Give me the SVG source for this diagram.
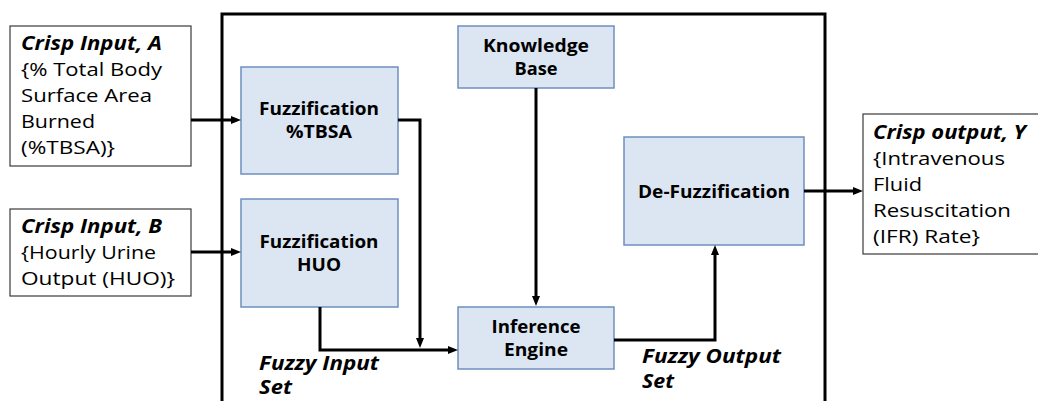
<svg xmlns="http://www.w3.org/2000/svg" width="1038" height="401" viewBox="0 0 1038 401">
<style>
.io{fill:#fff;stroke:#3a3a3a;stroke-width:1.2}
.blk{fill:#dce6f2;stroke:#6d8fbf;stroke-width:1.5}
.t{font-family:"Open Sans","Liberation Sans",sans-serif;font-size:19px;fill:#000}
.bi{font-weight:bold;font-style:italic}
.b{font-family:"Open Sans","Liberation Sans",sans-serif;font-size:17px;font-weight:bold;fill:#000;text-anchor:middle}
.c{fill:none;stroke:#000;stroke-width:3}
</style>
<defs>
<marker id="ah" markerUnits="userSpaceOnUse" markerWidth="10" markerHeight="8" refX="2" refY="4" orient="auto">
<path d="M0,0 L10,4 L0,8 z" fill="#000"/>
</marker>
</defs>
<rect x="222" y="14" width="603" height="400" fill="none" stroke="#000" stroke-width="3"/>
<g id="inputA">
<rect class="io" x="10" y="26" width="181" height="140"/>
<text class="t bi" x="21" y="50" textLength="141" lengthAdjust="spacingAndGlyphs">Crisp Input, A</text>
<text class="t" x="21" y="76" textLength="141" lengthAdjust="spacingAndGlyphs">{% Total Body</text>
<text class="t" x="21" y="102" textLength="131" lengthAdjust="spacingAndGlyphs">Surface Area</text>
<text class="t" x="21" y="128" textLength="74" lengthAdjust="spacingAndGlyphs">Burned</text>
<text class="t" x="21" y="154" textLength="94" lengthAdjust="spacingAndGlyphs">(%TBSA)}</text>
</g>
<g id="inputB">
<rect class="io" x="10" y="209" width="181" height="87"/>
<text class="t bi" x="21" y="233" textLength="141" lengthAdjust="spacingAndGlyphs">Crisp Input, B</text>
<text class="t" x="21" y="259" textLength="135" lengthAdjust="spacingAndGlyphs">{Hourly Urine</text>
<text class="t" x="21" y="285" textLength="154" lengthAdjust="spacingAndGlyphs">Output (HUO)}</text>
</g>
<g id="fuzzTBSA">
<rect class="blk" x="241" y="67" width="157" height="107"/>
<text class="b" x="319" y="115" textLength="120" lengthAdjust="spacingAndGlyphs">Fuzzification</text>
<text class="b" x="319" y="138" textLength="66" lengthAdjust="spacingAndGlyphs">%TBSA</text>
</g>
<g id="fuzzHUO">
<rect class="blk" x="241" y="199" width="157" height="108"/>
<text class="b" x="319" y="248" textLength="119" lengthAdjust="spacingAndGlyphs">Fuzzification</text>
<text class="b" x="319" y="271" textLength="44" lengthAdjust="spacingAndGlyphs">HUO</text>
</g>
<g id="kb">
<rect class="blk" x="458" y="26" width="156" height="62"/>
<text class="b" x="536" y="52" textLength="106" lengthAdjust="spacingAndGlyphs">Knowledge</text>
<text class="b" x="536" y="75" textLength="43" lengthAdjust="spacingAndGlyphs">Base</text>
</g>
<g id="ie">
<rect class="blk" x="458" y="307" width="156" height="62"/>
<text class="b" x="536" y="333" textLength="89" lengthAdjust="spacingAndGlyphs">Inference</text>
<text class="b" x="536" y="356" textLength="64" lengthAdjust="spacingAndGlyphs">Engine</text>
</g>
<g id="defuzz">
<rect class="blk" x="624" y="137" width="180" height="108"/>
<text class="b" x="714" y="198" textLength="152" lengthAdjust="spacingAndGlyphs">De-Fuzzification</text>
</g>
<g id="output">
<rect class="io" x="863" y="114" width="180" height="140"/>
<text class="t bi" x="873" y="139" textLength="153" lengthAdjust="spacingAndGlyphs">Crisp output, Y</text>
<text class="t" x="873" y="165" textLength="132" lengthAdjust="spacingAndGlyphs">{Intravenous</text>
<text class="t" x="873" y="191" textLength="49" lengthAdjust="spacingAndGlyphs">Fluid</text>
<text class="t" x="873" y="217" textLength="138" lengthAdjust="spacingAndGlyphs">Resuscitation</text>
<text class="t" x="873" y="243" textLength="107" lengthAdjust="spacingAndGlyphs">(IFR) Rate}</text>
</g>
<g id="labels">
<text class="t bi" x="259" y="370" textLength="120" lengthAdjust="spacingAndGlyphs">Fuzzy Input</text>
<text class="t bi" x="259" y="394" textLength="33" lengthAdjust="spacingAndGlyphs">Set</text>
<text class="t bi" x="642" y="363" textLength="139" lengthAdjust="spacingAndGlyphs">Fuzzy Output</text>
<text class="t bi" x="642" y="388" textLength="32" lengthAdjust="spacingAndGlyphs">Set</text>
</g>
<g id="connectors">
<path class="c" d="M191,120 H233" marker-end="url(#ah)"/>
<path class="c" d="M191,252 H233" marker-end="url(#ah)"/>
<path class="c" d="M398,120 H420 V340" marker-end="url(#ah)"/>
<path class="c" d="M320,307 V350 H450" marker-end="url(#ah)"/>
<path class="c" d="M536,88 V298" marker-end="url(#ah)"/>
<path class="c" d="M614,340 H715 V253" marker-end="url(#ah)"/>
<path class="c" d="M804,191 H855" marker-end="url(#ah)"/>
</g>
</svg>
